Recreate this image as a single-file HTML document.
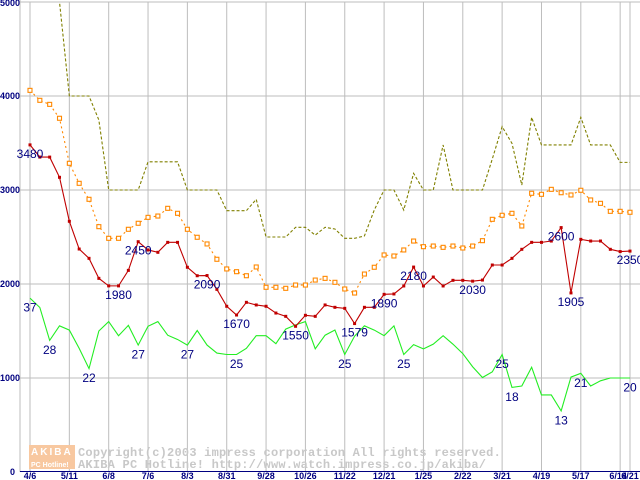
<!DOCTYPE html>
<html><head><meta charset="utf-8"><style>
html,body{margin:0;padding:0;background:#fff;}
svg{display:block;}
.tk{font-family:"Liberation Sans",sans-serif;font-weight:bold;font-size:9px;fill:#000080;}
.lb{font-family:"Liberation Sans",sans-serif;font-size:12px;fill:#000080;}
.wm{font-family:"Liberation Mono",monospace;font-weight:bold;font-size:12px;fill:#c8c8c8;letter-spacing:0.22px;}
</style></head><body>
<svg id="chart" width="640" height="480" viewBox="0 0 640 480" xmlns="http://www.w3.org/2000/svg">
<g id="grid"></g>
<g id="wmark">
<rect x="29" y="445" width="46" height="24" fill="#f8c8a0"/>
<text x="31" y="455" font-family="Liberation Sans,sans-serif" font-weight="bold" font-size="10" fill="#fff" letter-spacing="2">AKIBA</text>
<text x="31" y="467" font-family="Liberation Sans,sans-serif" font-weight="bold" font-size="7" fill="#fff">PC Hotline!</text>
<text class="wm" x="78" y="456">Copyright(c)2003 impress corporation All rights reserved.</text>
<text class="wm" x="78" y="468">AKIBA PC Hotline!  http://www.watch.impress.co.jp/akiba/</text>
</g>
<g id="series"></g>
<g id="labels"></g>
</svg>
<script>
const xLabels = ["4/6","5/11","6/8","7/6","8/3","8/31","9/28","10/26","11/22","12/21","1/25","2/22","3/21","4/19","5/17","6/14","6/21"];
const xLabelIdx = [0,4,8,12,16,20,24,28,32,36,40,44,48,52,56,60,61];
const yTicks = [0,1000,2000,3000,4000,5000];
const priceRed = [3480,3350,3350,3135,2667,2372,2273,2060,1980,1980,2145,2450,2362,2337,2443,2443,2178,2088,2090,1943,1763,1670,1805,1777,1763,1691,1656,1550,1667,1656,1777,1752,1741,1579,1752,1752,1890,1894,1979,2180,1979,2074,1979,2039,2039,2030,2042,2202,2202,2273,2369,2443,2443,2457,2600,1905,2475,2457,2457,2369,2345,2350];
const priceOrange = [4060,3954,3911,3763,3284,3071,2901,2610,2486,2486,2582,2646,2709,2723,2805,2752,2582,2497,2426,2263,2160,2131,2088,2181,1965,1965,1954,1989,1989,2042,2060,2018,1947,1904,2106,2178,2309,2298,2362,2457,2397,2404,2390,2404,2383,2404,2461,2688,2731,2752,2617,2965,2954,3007,2971,2947,2997,2894,2858,2773,2773,2763];
const priceOlive = [5600,6000,6000,5000,4000,4000,4000,3745,3000,3000,3000,3000,3300,3300,3300,3300,3000,3000,3000,3000,2780,2780,2780,2900,2500,2500,2500,2603,2603,2520,2603,2585,2486,2486,2511,2787,3000,3000,2787,3177,3000,3000,3479,3000,3000,3000,3000,3330,3674,3496,3053,3773,3479,3479,3479,3479,3773,3479,3479,3479,3294,3294];
const shopCount = [37,35,28,31.1,30.2,26.3,22,30,32,29,31.2,27,31,32,29.1,28.2,27,30.1,27,25.3,25,25,26.3,29,29,27.3,30.4,31.3,32,26.2,29.1,30.2,25,28.9,31.1,30.2,29,31.1,25,27.1,26.2,27.2,29,27.2,25.2,22.4,20.1,21.3,25,18,18.3,22.3,16.4,16.4,13,20.2,21,18.3,19.4,20,20,20];
const redLabelIdx = [0,9,11,18,21,27,33,36,39,45,54,55,61];
const greenLabelIdx = [0,2,6,11,16,21,32,38,48,49,54,56,61];

const NS="http://www.w3.org/2000/svg";
const X0=30, X1=630, N=priceRed.length;
const xs=i=>X0+(X1-X0)*i/(N-1);
const ys=v=>472-v*0.094;
const yc=c=>ys(c*50);
function mk(tag,attrs,parent){const e=document.createElementNS(NS,tag);for(const k in attrs)e.setAttribute(k,attrs[k]);parent.appendChild(e);return e;}
const grid=document.getElementById('grid'),ser=document.getElementById('series'),lab=document.getElementById('labels');

yTicks.forEach(v=>{
  if(v>0){const l=mk('line',{x1:20,x2:640,y1:ys(v),y2:ys(v),stroke:'#bdbdbd','stroke-width':1},grid);
  
  }
  const t=mk('text',{x:v==0?10:0,y:ys(v)+(v==5000?4:3),class:'tk'},grid);t.textContent=v;
  
  
});
xLabelIdx.forEach((idx,k)=>{
  const l=mk('line',{x1:xs(idx),x2:xs(idx),y1:ys(5000),y2:472,stroke:'#bdbdbd','stroke-width':1},grid);
  
  
  const t=mk('text',{x:xs(idx)+(idx==60?-2:0),y:479,class:'tk','text-anchor':'middle'},grid);t.textContent=xLabels[k];
  
  
});
const ax=mk('line',{x1:20,x2:20,y1:0,y2:472,stroke:'#bdbdbd'},grid);


const bx=mk('line',{x1:20,x2:640,y1:471.5,y2:471.5,stroke:'#000080'},grid);



const clip=mk('clipPath',{id:'pc'},ser);mk('rect',{x:0,y:3,width:640,height:470},clip);
function poly(vals,f,stroke,dash,name){
  const p=mk('polyline',{points:vals.map((v,i)=>xs(i)+','+f(v)).join(' '),fill:'none',stroke:stroke,'stroke-width':1.1,'clip-path':'url(#pc)'},ser);
  if(dash)p.setAttribute('stroke-dasharray',dash);
  
  
}
poly(priceOlive,ys,'#808000','3,2','olive-price-line');
poly(priceOrange,ys,'#ff8800','2,3','orange-price-line');
poly(shopCount,yc,'#22ee22',null,'shop-count-line');
poly(priceRed,ys,'#c00000',null,'red-price-line');
priceOrange.forEach((v,i)=>{
  const r=mk('rect',{x:xs(i)-2,y:ys(v)-2,width:4,height:4,fill:'#fff',stroke:'#ff8800','stroke-width':1.1},ser);
  
  
});
priceRed.forEach((v,i)=>{
  const r=mk('rect',{x:xs(i)-1.5,y:ys(v)-1.5,width:3,height:3,fill:'#c00000'},ser);
  
  
});
redLabelIdx.forEach(i=>{
  const t=mk('text',{x:xs(i),y:ys(priceRed[i])+13,class:'lb','text-anchor':'middle'},lab);t.textContent=priceRed[i];
  
  
});
greenLabelIdx.forEach(i=>{
  const t=mk('text',{x:xs(i),y:yc(shopCount[i])+13.5,class:'lb','text-anchor':'middle'},lab);t.textContent=Math.round(shopCount[i]);
  
  
});
</script>
</body></html>
